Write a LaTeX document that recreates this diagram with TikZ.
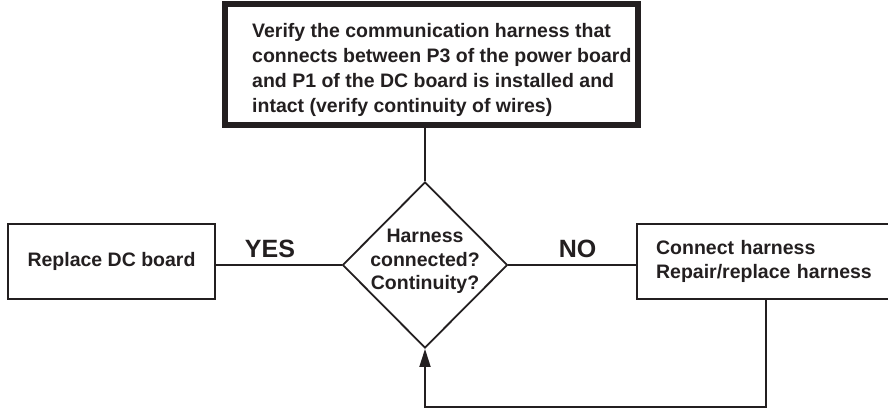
\documentclass[tikz,border=0pt]{standalone}
\usepackage{fontspec}
\setmainfont{Liberation Sans}
\usetikzlibrary{arrows.meta,shapes.geometric,calc}
\definecolor{ink}{HTML}{231F20}

\begin{document}
\begin{tikzpicture}[x=1pt,y=-1pt,>={Triangle[length=18pt,width=11pt]},
  every node/.style={text=ink,font=\bfseries\fontsize{19.5}{23.5}\selectfont},
  box/.style={draw=ink,line width=2.2pt,inner sep=0pt},
  answer/.style={font=\bfseries\fontsize{25}{30}\selectfont,anchor=base,inner sep=0pt},
  wire/.style={draw=ink,line width=1.8pt}]
\useasboundingbox (0,0) rectangle (888,409);
\node[box,line width=5.5pt,minimum width=413pt,minimum height=121pt] (check) at (431.5,64.5) {};
\node[anchor=north west,inner sep=0pt,align=left,font=\bfseries\fontsize{19.5}{25}\selectfont] (checktxt) at (252,22.8)
  {Verify the communication harness that\\connects between P3 of the power board\\and P1 of the DC board is installed and\\intact (verify continuity of wires)};
\node[diamond,draw=ink,line width=1.8pt,inner sep=0pt,minimum width=165pt,minimum height=166pt] (dec) at (425,265) {};
\node[align=center,inner sep=0pt] (dectxt) at (425,261.5) {Harness\\connected?\\Continuity?};
\node[box,minimum width=207pt,minimum height=75pt] (replace) at (111.5,261.5) {Replace DC board};
\node[box,anchor=west,minimum width=310pt,minimum height=75pt,text width=272pt,inner xsep=19pt,align=left] (fix) at (636,261.5)
  {Connect harness\\Repair/replace harness};
\node[answer] (yes) at (270,257) {YES};
\node[answer] (no) at (577.5,257) {NO};

\draw[wire] (dec.north) -- (dec.north |- check.south);
\draw[wire] (dec.west) -- (dec.west -| replace.east);
\draw[wire] (dec.east) -- (dec.east -| fix.west);
\coordinate (bend) at (766,407);
\draw[wire,->] (bend |- fix.south) -- (bend) -- (bend -| dec.south) -- (dec.south);
\end{tikzpicture}
\end{document}
